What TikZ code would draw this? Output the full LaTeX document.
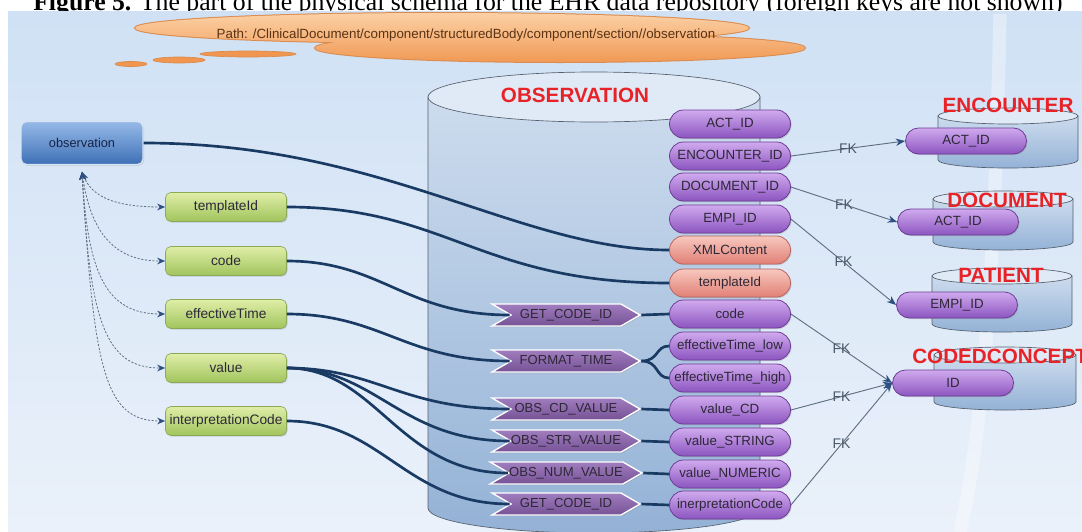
\documentclass[tikz,border=0pt]{standalone}
\usepackage{fontspec}
\setmainfont{Liberation Serif}
\setsansfont{Liberation Sans}
\usetikzlibrary{shapes.symbols,shapes.misc,arrows.meta,shadows}

\definecolor{bgA}{RGB}{208,225,245}
\definecolor{bgB}{RGB}{234,241,250}
\definecolor{cloudA}{RGB}{252,212,170}
\definecolor{cloudB}{RGB}{240,150,80}
\definecolor{cloudE}{RGB}{218,140,80}
\definecolor{cylA}{RGB}{205,220,238}
\definecolor{cylB}{RGB}{148,178,214}
\definecolor{cylT}{RGB}{224,234,246}
\definecolor{cylE}{RGB}{85,95,110}
\definecolor{purA}{RGB}{208,170,238}
\definecolor{purB}{RGB}{140,85,192}
\definecolor{purE}{RGB}{110,60,150}
\definecolor{salA}{RGB}{247,200,190}
\definecolor{salB}{RGB}{226,128,118}
\definecolor{salE}{RGB}{185,100,95}
\definecolor{funA}{RGB}{160,125,190}
\definecolor{funB}{RGB}{118,82,150}
\definecolor{grnA}{RGB}{224,238,168}
\definecolor{grnB}{RGB}{160,196,92}
\definecolor{grnE}{RGB}{140,170,85}
\definecolor{bluA}{RGB}{150,186,232}
\definecolor{bluB}{RGB}{62,112,182}
\definecolor{bluE}{RGB}{215,228,245}
\definecolor{bluT}{RGB}{25,35,70}
\definecolor{cconn}{RGB}{25,58,98}
\definecolor{fkc}{RGB}{95,112,130}
\definecolor{tipc}{RGB}{45,80,130}
\definecolor{lblred}{RGB}{232,35,40}
\definecolor{txt}{RGB}{45,40,55}
\definecolor{pathtxt}{RGB}{90,50,20}

\newcommand{\dbcyl}[5]{%
  \path[cylbody] ({#1-#2},#3) -- ({#1-#2},#4) arc[start angle=180,end angle=0,x radius=#2,y radius=#5] -- ({#1+#2},#3) -- cycle;
  \path[cyltop] (#1,#3) ellipse[x radius=#2,y radius=#5];
}

\begin{document}
\begin{tikzpicture}[x=0.75pt,y=-0.75pt,
  pill/.style={rounded rectangle, minimum width=90.75pt, minimum height=21pt, inner sep=0pt,
    draw=purE, line width=0.6pt, top color=purA, bottom color=purB,
    font=\sffamily\fontsize{10}{12}\selectfont, text=txt,
    drop shadow={shadow xshift=0.8pt, shadow yshift=-0.8pt, opacity=0.3}},
  spill/.style={pill, draw=salE, top color=salA, bottom color=salB},
  rpill/.style={pill, minimum height=19.5pt},
  fun/.style={signal, signal from=west, signal to=east, signal pointer angle=60,
    minimum width=111pt, minimum height=16.5pt, inner sep=0pt,
    draw=white, line width=1pt, top color=funA, bottom color=funB,
    font=\sffamily\fontsize{9.8}{11}\selectfont, text=txt,
    drop shadow={shadow xshift=0.8pt, shadow yshift=-0.8pt, opacity=0.3}},
  grn/.style={rectangle, rounded corners=4pt, minimum width=90.75pt, minimum height=21.75pt, inner sep=0pt,
    draw=grnE, line width=0.5pt, top color=grnA, bottom color=grnB,
    font=\sffamily\fontsize{10.3}{12}\selectfont, text=txt,
    drop shadow={shadow xshift=0.8pt, shadow yshift=-0.8pt, opacity=0.3}},
  conline/.style={draw=cconn, line width=2pt},
  fkline/.style={draw=fkc, line width=0.7pt, -{Stealth[length=7pt,width=5.5pt,color=tipc]}},
  fklab/.style={font=\sffamily\fontsize{10.5}{12}\selectfont, text=fkc!80!black, inner sep=0pt},
  dasharr/.style={draw=fkc, line width=0.6pt, dash pattern=on 1.6pt off 1.2pt,
    {Stealth[length=6pt,width=5pt,color=tipc]}-{Stealth[length=6pt,width=5pt,color=tipc]}},
  cylbody/.style={draw=cylE, line width=0.5pt, top color=cylA, bottom color=cylB},
  cyltop/.style={draw=cylE, line width=0.5pt, fill=cylT},
  tlabel/.style={font=\sffamily\bfseries\fontsize{15.5}{18}\selectfont, text=lblred, inner sep=0pt}
]
\useasboundingbox (0,0) rectangle (1082,532);
\fill[white] (0,0) rectangle (1082,532);

% caption (cut off at the top)
\node[anchor=base west, inner sep=0pt, font=\fontsize{19.3}{22}\selectfont] (cap) at (33,10)
  {\textbf{Figure 5.} The part of the physical schema for the EHR data repository (foreign keys are not shown)};

% background
\shade[top color=bgA, bottom color=bgB] (8,11) rectangle (1082,532);
\draw[white, opacity=0.35, line width=10pt] (960,532) .. controls (985,420) and (995,250) .. (1000,14);

% cloud
\draw[cloudE, line width=1.5pt] (442,28) ellipse[x radius=307,y radius=15] (560,48) ellipse[x radius=245,y radius=14];
\begin{scope}
  \clip (442,28) ellipse[x radius=307,y radius=15] (560,48) ellipse[x radius=245,y radius=14];
  \shade[top color=cloudA, bottom color=cloudB] (130,10) rectangle (810,65);
\end{scope}
\path[fill=cloudB, draw=cloudE, line width=0.5pt] (248,54) ellipse[x radius=48,y radius=3];
\path[fill=cloudB, draw=cloudE, line width=0.5pt] (179,60) ellipse[x radius=26,y radius=3];
\path[fill=cloudB, draw=cloudE, line width=0.5pt] (131,64) ellipse[x radius=16,y radius=2.5];
\node[font=\sffamily\fontsize{10}{12}\selectfont, text=pathtxt, inner sep=0pt] (pathtext) at (466,35)
  {Path: /ClinicalDocument/component/structuredBody/component/section//observation};

% cylinders
\dbcyl{594}{166}{97}{508}{25}
\node[tlabel] (lobs) at (575,95) {OBSERVATION};
\dbcyl{1008}{70}{116}{160}{8}
\dbcyl{1003}{70}{199}{242}{8}
\dbcyl{1002}{70}{276}{324}{8}
\dbcyl{1005}{71}{355}{402}{8}
\node[tlabel] (lenc) at (1008,105) {ENCOUNTER};
\node[tlabel] (ldoc) at (1007,200) {DOCUMENT};
\node[tlabel] (lpat) at (1001,275) {PATIENT};
\node[tlabel, anchor=west] (lcc) at (912,356) {CODEDCONCEPT};

% left nodes
\node[rectangle, rounded corners=4pt, minimum width=91.5pt, minimum height=32.25pt, inner sep=0pt,
  draw=bluE, line width=1pt, top color=bluA, bottom color=bluB,
  font=\sffamily\fontsize{9.6}{12}\selectfont, text=bluT,
  drop shadow={shadow xshift=0.8pt, shadow yshift=-0.8pt, opacity=0.3}] (obs) at (82,143) {observation};
\node[grn] (gtmpl) at (226,207) {templateId};
\node[grn] (gcode) at (226,261) {code};
\node[grn] (gtime) at (226,314) {effectiveTime};
\node[grn] (gval) at (226,368) {value};
\node[grn] (gint) at (226,421) {interpretationCode};

% columns
\node[pill] (actid) at (730,124) {ACT\_ID};
\node[pill] (encid) at (730,156) {ENCOUNTER\_ID};
\node[pill] (docid) at (730,187) {DOCUMENT\_ID};
\node[pill] (empiid) at (730,219) {EMPI\_ID};
\node[spill] (xmlc) at (730,250) {XMLContent};
\node[spill] (tmpl) at (730,283) {templateId};
\node[pill] (pcode) at (730,314) {code};
\node[pill] (etlow) at (730,346) {effectiveTime\_low};
\node[pill] (ethigh) at (730,378) {effectiveTime\_high};
\node[pill] (vcd) at (730,410) {value\_CD};
\node[pill] (vstr) at (730,442) {value\_STRING};
\node[pill] (vnum) at (730,474) {value\_NUMERIC};
\node[pill] (icode) at (730,505) {inerpretationCode};

% functions
\node[fun] (fcode) at (566,315) {GET\_CODE\_ID};
\node[fun] (ftime) at (566,361) {FORMAT\_TIME};
\node[fun] (fcd) at (566,409) {OBS\_CD\_VALUE};
\node[fun] (fstr) at (566,441) {OBS\_STR\_VALUE};
\node[fun] (fnum) at (566,473) {OBS\_NUM\_VALUE};
\node[fun] (fic) at (566,504) {GET\_CODE\_ID};

% referenced tables
\node[rpill] (encact) at (966,141) {ACT\_ID};
\node[rpill] (docact) at (958,222) {ACT\_ID};
\node[rpill] (patempi) at (957,305) {EMPI\_ID};
\node[rpill] (ccid) at (953,383) {ID};

% dashed child arrows
\draw[dasharr] ([yshift=-5pt]obs.south) .. controls +(10,25) and +(-50,0) .. (gtmpl.west);
\draw[dasharr] ([yshift=-5pt]obs.south) .. controls +(8,55) and +(-55,0) .. (gcode.west);
\draw[dasharr] ([yshift=-5pt]obs.south) .. controls +(6,100) and +(-60,0) .. (gtime.west);
\draw[dasharr] ([yshift=-5pt]obs.south) .. controls +(8,150) and +(-60,0) .. (gval.west);
\draw[dasharr] ([yshift=-5pt]obs.south) .. controls +(12,200) and +(-60,0) .. (gint.west);

% mapping connectors
\draw[conline] (obs.east) .. controls +(240,0) and +(-150,0) .. (xmlc.west);
\draw[conline] (gtmpl.east) .. controls +(160,0) and +(-190,0) .. (tmpl.west);
\draw[conline] (gcode.east) .. controls +(95,0) and +(-105,0) .. (fcode.west);
\draw[conline] (gtime.east) .. controls +(95,0) and +(-105,0) .. (ftime.west);
\draw[conline] (gval.east) .. controls +(90,0) and +(-110,0) .. (fcd.west);
\draw[conline] (gval.east) .. controls +(90,0) and +(-110,0) .. (fstr.west);
\draw[conline] (gval.east) .. controls +(90,0) and +(-110,0) .. (fnum.west);
\draw[conline] (gint.east) .. controls +(95,0) and +(-105,0) .. (fic.west);

\draw[conline] (fcode.east) -- (pcode.west);
\draw[conline] (ftime.east) .. controls +(18,0) and +(-14,0) .. (etlow.west);
\draw[conline] (ftime.east) .. controls +(18,0) and +(-14,0) .. (ethigh.west);
\draw[conline] (fcd.east) -- (vcd.west);
\draw[conline] (fstr.east) -- (vstr.west);
\draw[conline] (fnum.east) -- (vnum.west);
\draw[conline] (fic.east) -- (icode.west);

% foreign keys
\draw[fkline] (encid.east) -- node[fklab] {FK} (encact.west);
\draw[fkline] (docid.east) -- node[fklab] {FK} (docact.west);
\draw[fkline] (empiid.east) -- node[fklab] {FK} (patempi.west);
\draw[fkline] (pcode.east) -- node[fklab] {FK} (ccid.west);
\draw[fkline] (vcd.east) -- node[fklab] {FK} (ccid.west);
\draw[fkline] (icode.east) -- node[fklab] {FK} (ccid.west);
\end{tikzpicture}
\end{document}
